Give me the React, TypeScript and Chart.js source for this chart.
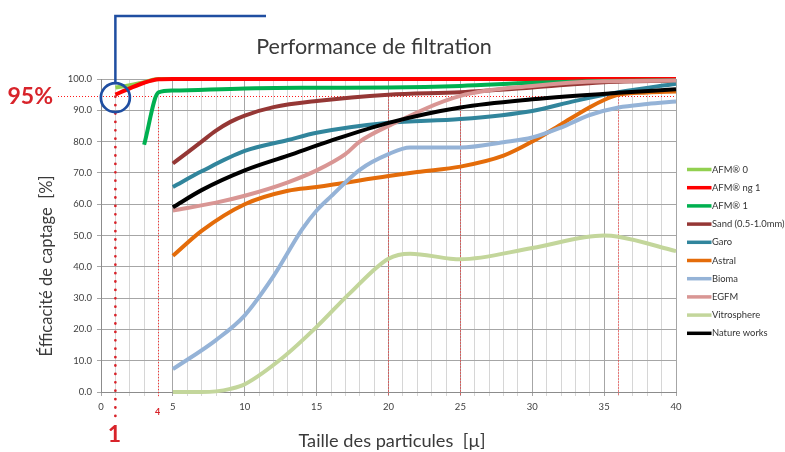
import { useEffect, useRef } from 'react';
import { Chart, registerables } from 'chart.js';

Chart.register(...registerables);

// ---------- data ----------
const seriesNames = [
  'AFM® 0',
  'AFM® ng 1',
  'AFM® 1',
  'Sand (0.5-1.0mm)',
  'Garo',
  'Astral',
  'Bioma',
  'EGFM',
  'Vitrosphere',
  'Nature works',
];
const seriesColors = [
  '#92d050',
  '#ff0000',
  '#00b050',
  '#953735',
  '#31859c',
  '#e46c0a',
  '#95b3d7',
  '#d99694',
  '#c3d69b',
  '#000000',
];

const afm0X = [1, 2, 3, 4, 5, 10, 20, 30, 40];
const afm0Y = [97.3, 98, 99, 100, 100, 100, 100, 100, 100];

const afmNg1X = [1, 2, 3, 4, 5, 10, 20, 30, 40];
const afmNg1Y = [95, 97, 98.8, 99.9, 100, 100, 100, 100, 100];

const afm1X = [3, 4, 5, 10, 15, 20, 25, 30, 35, 40];
const afm1Y = [79, 95.7, 96.3, 97, 97.2, 97.3, 97.8, 98.8, 99.4, 99.5];

const sandX = [5, 6, 7, 8, 9, 10, 12, 15, 20, 25, 30, 35, 40];
const sandY = [73, 76.5, 80, 83.5, 86.3, 88.3, 91, 93, 95, 95.8, 97.3, 99, 99.5];

const garoX = [5, 7, 10, 13, 15, 20, 25, 30, 33, 36, 40];
const garoY = [65.5, 70.5, 77, 80.5, 82.8, 86, 87.2, 89.8, 93, 95.8, 98.5];

const astralX = [5, 7, 10, 13, 15, 20, 22, 25, 28, 30, 32, 34, 35, 36, 38, 40];
const astralY = [43.5, 51.5, 60, 64.3, 65.5, 69, 70.3, 72, 75.5, 80, 85.5, 91, 93.3, 95, 95.7, 96];

const biomaX = [5, 8, 10, 12, 14, 15, 16, 18, 20, 21.5, 25, 28, 30, 32, 34, 36, 38, 40];
const biomaY = [7.3, 16.6, 24.5, 37, 52, 58, 62.5, 71, 76, 78.1, 78.1, 79.8, 81.3, 84.5, 88.5, 90.9, 92, 92.8];

const egfmX = [5, 8, 10, 13, 15, 17, 18, 20, 25, 30, 35, 40];
const egfmY = [58, 60.5, 62.7, 67, 70.8, 76, 80, 85, 94.6, 97.8, 99.3, 99.5];

const vitroX = [5, 7, 8, 9, 10, 12.7, 15, 17.3, 20, 21.5, 24.3, 25, 30, 35, 36, 40];
const vitroY = [0, 0, 0.2, 1, 2.5, 11.2, 20.8, 31.5, 42.6, 44.2, 42.6, 42.4, 46, 50, 49.6, 45];

const natureX = [5, 7, 10, 13, 16, 20, 25, 30, 36, 40];
const natureY = [59, 64.5, 70.8, 75.5, 80.3, 86, 90.9, 93.5, 95.6, 96.7];

const seriesX = [afm0X, afmNg1X, afm1X, sandX, garoX, astralX, biomaX, egfmX, vitroX, natureX];
const seriesY = [afm0Y, afmNg1Y, afm1Y, sandY, garoY, astralY, biomaY, egfmY, vitroY, natureY];

const xMin = 0;
const xMax = 40;
const yMin = 0;
const yMax = 100;

// annotation values
const targetEfficiency = 95;
const targetLabel = '95%';
const keySize = 1;
const keySizeLabel = '1';
const secondSize = 4;
const secondSizeLabel = '4';
const guideSizes = [20, 25, 36];

const titleText = 'Performance de filtration';
const xTitle = 'Taille des particules  [µ]';
const yTitle = 'Éfficacité de captage  [%]';

const FONT = 'Lato, "Open Sans", sans-serif';
const RED = '#d8232a';
const BLUE = '#1f4ea1';
const DOT_RED = '#ff1a1a';

const annotationPlugin = {
  id: 'annotations',
  beforeDatasetsDraw(chart: any) {
    const { ctx, scales } = chart;
    const xs = scales.x;
    const ys = scales.y;
    const y95 = Math.round(ys.getPixelForValue(targetEfficiency)) + 1.5;
    ctx.save();
    ctx.strokeStyle = DOT_RED;
    ctx.lineWidth = 1;
    ctx.setLineDash([1, 2]);
    // horizontal 95% guide
    ctx.beginPath();
    ctx.moveTo(58, y95);
    ctx.lineTo(xs.getPixelForValue(xMax), y95);
    ctx.stroke();
    // vertical guides (aligned with the grid lines)
    guideSizes.forEach((g) => {
      const px = Math.floor(xs.getPixelForValue(g)) + 0.5;
      ctx.beginPath();
      ctx.moveTo(px, y95);
      ctx.lineTo(px, ys.getPixelForValue(0) + 3);
      ctx.stroke();
    });
    const p4 = Math.floor(xs.getPixelForValue(secondSize)) + 0.5;
    ctx.beginPath();
    ctx.moveTo(p4, ys.getPixelForValue(91));
    ctx.lineTo(p4, ys.getPixelForValue(0) + 6);
    ctx.stroke();
    ctx.restore();
  },
  afterDatasetsDraw(chart: any) {
    const { ctx, scales } = chart;
    const xs = scales.x;
    const ys = scales.y;
    const p1 = xs.getPixelForValue(keySize);
    const y95 = ys.getPixelForValue(targetEfficiency);
    ctx.save();
    // thick dotted line at size 1
    ctx.strokeStyle = RED;
    ctx.lineWidth = 2.7;
    ctx.lineCap = 'round';
    ctx.setLineDash([0.1, 8.3]);
    ctx.beginPath();
    ctx.moveTo(p1, y95 + 2);
    ctx.lineTo(p1, ys.getPixelForValue(0) + 25);
    ctx.stroke();
    ctx.setLineDash([]);
    ctx.lineCap = 'butt';
    // blue circle and callout line
    ctx.strokeStyle = BLUE;
    ctx.lineWidth = 2.7;
    const cy = y95 + 3;
    ctx.beginPath();
    ctx.arc(p1, cy, 14.5, 0, Math.PI * 2);
    ctx.stroke();
    ctx.lineWidth = 2.5;
    ctx.beginPath();
    ctx.moveTo(p1, cy - 14.5);
    ctx.lineTo(p1, 16);
    ctx.lineTo(266, 16);
    ctx.stroke();
    ctx.restore();
  },
  afterDraw(chart: any) {
    const { ctx, scales } = chart;
    const xs = scales.x;
    const ys = scales.y;
    ctx.save();
    // red labels
    ctx.fillStyle = RED;
    ctx.font = `bold 23px ${FONT}`;
    ctx.textAlign = 'right';
    ctx.textBaseline = 'middle';
    ctx.fillText(targetLabel, 53, ys.getPixelForValue(targetEfficiency) + 2);
    ctx.textAlign = 'center';
    ctx.textBaseline = 'alphabetic';
    ctx.fillText(keySizeLabel, xs.getPixelForValue(keySize) - 1, 442);
    ctx.font = `bold 9px ${FONT}`;
    ctx.fillText(secondSizeLabel, xs.getPixelForValue(secondSize) - 1, 415);

    // titles
    ctx.fillStyle = '#3a3a3a';
    ctx.font = `21.5px ${FONT}`;
    ctx.textAlign = 'center';
    ctx.textBaseline = 'middle';
    ctx.fillText(titleText, 374, 47);
    ctx.font = `18.2px ${FONT}`;
    ctx.fillText(xTitle, 392, 441);
    ctx.save();
    ctx.translate(47, 266);
    ctx.rotate(-Math.PI / 2);
    ctx.font = `16.5px ${FONT}`;
    ctx.fillText(yTitle, 0, 0);
    ctx.restore();

    // legend
    ctx.font = `9.4px ${FONT}`;
    ctx.textAlign = 'left';
    ctx.textBaseline = 'middle';
    chart.data.datasets.forEach((ds: any, i: number) => {
      const ly = 169.5 + i * 18.2;
      ctx.strokeStyle = ds.borderColor;
      ctx.lineWidth = 3.5;
      ctx.beginPath();
      ctx.moveTo(687, ly);
      ctx.lineTo(711.5, ly);
      ctx.stroke();
      ctx.fillStyle = '#333333';
      ctx.fillText(ds.label, 712, ly);
    });
    ctx.restore();
  },
};

export default function App() {
  const canvasRef = useRef<HTMLCanvasElement | null>(null);

  useEffect(() => {
    const canvas = canvasRef.current;
    if (!canvas) return;
    const n = seriesNames.length;
    const datasets = seriesNames.map((name, i) => ({
      label: name,
      data: seriesX[i].map((x, j) => ({ x, y: seriesY[i][j] })),
      borderColor: seriesColors[i],
      backgroundColor: seriesColors[i],
      borderWidth: 4,
      pointRadius: 0,
      cubicInterpolationMode: 'monotone' as const,
      fill: false,
      clip: false as any,
      order: n - i,
    }));

    const chart = new Chart(canvas, {
      type: 'line',
      data: { datasets },
      options: {
        responsive: false,
        animation: false,
        devicePixelRatio: 1,
        layout: { padding: { left: 41, right: 109, top: 79, bottom: 30 } },
        plugins: {
          legend: { display: false },
          tooltip: { enabled: false },
          title: { display: false },
        },
        scales: {
          x: {
            type: 'linear',
            min: xMin,
            max: xMax,
            afterFit: (s: any) => {
              s.height = 30;
            },
            border: { color: '#8c8c8c' },
            grid: {
              color: (c: any) => (c.tick && c.tick.value % 5 === 0 ? '#a6a6a6' : '#d6d6d6'),
              tickLength: 4,
            },
            ticks: {
              stepSize: 1,
              autoSkip: false,
              maxRotation: 0,
              padding: 5,
              color: '#404040',
              font: { family: FONT, size: 9.5 },
              callback: (v: any) => (Number(v) % 5 === 0 ? String(v) : ''),
            },
          },
          y: {
            type: 'linear',
            min: yMin,
            max: yMax,
            afterFit: (s: any) => {
              s.width = 60;
            },
            border: { color: '#8c8c8c' },
            grid: { color: '#a6a6a6', tickLength: 4 },
            ticks: {
              stepSize: 10,
              padding: 5,
              color: '#404040',
              font: { family: FONT, size: 9.5 },
              callback: (v: any) => Number(v).toFixed(1),
            },
          },
        },
      },
      plugins: [annotationPlugin],
    });
    return () => chart.destroy();
  }, []);

  return (
    <div style={{ position: 'fixed', left: 0, top: 0, width: 785, height: 452, background: '#ffffff' }}>
      <canvas ref={canvasRef} width={785} height={452} style={{ display: 'block' }} />
    </div>
  );
}
